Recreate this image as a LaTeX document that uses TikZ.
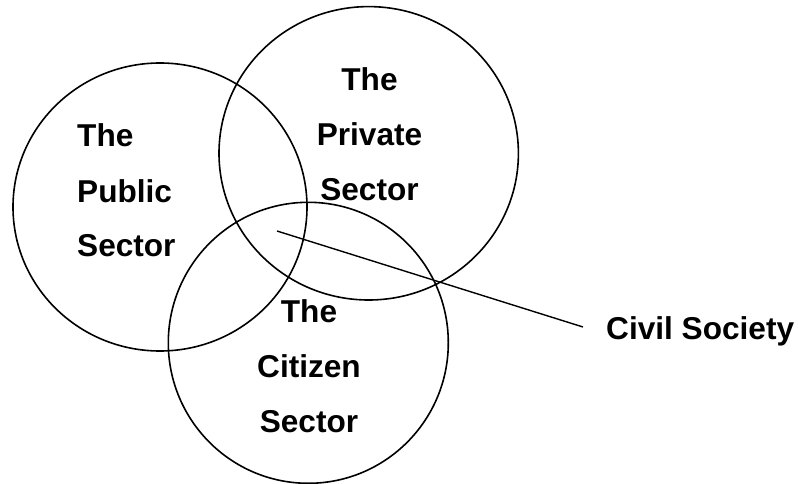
\documentclass[tikz,border=0pt]{standalone}
\usepackage{fontspec}
\setmainfont{Liberation Sans}
\usetikzlibrary{shapes.geometric}
\begin{document}
\begin{tikzpicture}[x=1pt,y=-1pt,
  ring/.style={ellipse, draw, line width=1.6pt, inner sep=0pt},
  lbl/.style={inner sep=0pt, font=\fontsize{31.6}{55}\selectfont\bfseries},
  link/.style={line width=1.4pt}]
\useasboundingbox (0,0) rectangle (798,484);
\node[ring, minimum width=294pt, minimum height=288pt] (public) at (160,207) {};
\node[ring, minimum width=299.4pt, minimum height=293.4pt] (private) at (368.7,153.3) {};
\node[ring, minimum width=280pt, minimum height=281pt] (citizen) at (308.3,342.8) {};
\node[lbl, text width=140pt, align=left, anchor=base west] (publbl) at (77,147) {The\\Public\\Sector};
\node[lbl, text width=140pt, align=center, anchor=base] (privlbl) at (369.5,91) {The\\Private\\Sector};
\node[lbl, text width=140pt, align=center, anchor=base] (citlbl) at (309,322) {The\\Citizen\\Sector};
\node[lbl, anchor=base west] (civil) at (606,339) {Civil Society};
\coordinate (hub) at (277,231);
\draw[link] (hub) -- ([xshift=-23pt,yshift=12pt]civil.base west);
\end{tikzpicture}
\end{document}
